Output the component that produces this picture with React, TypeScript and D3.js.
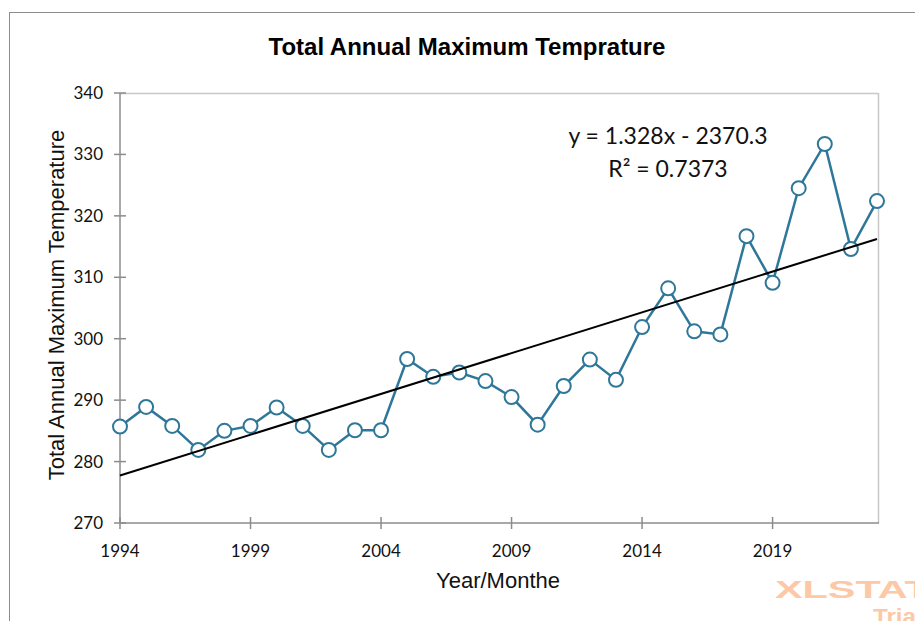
import React from "react";
import * as d3 from "d3";

const years = [1994,1995,1996,1997,1998,1999,2000,2001,2002,2003,2004,2005,2006,2007,2008,2009,2010,2011,2012,2013,2014,2015,2016,2017,2018,2019,2020,2021,2022,2023];
const values = [285.7,288.9,285.8,281.9,285.0,285.8,288.8,285.8,281.9,285.1,285.1,296.7,293.8,294.5,293.1,290.5,286.0,292.3,296.6,293.3,301.9,308.2,301.2,300.7,316.7,309.1,324.5,331.7,314.6,322.4];
const xTicks = [1994,1999,2004,2009,2014,2019];
const yTicks = [270,280,290,300,310,320,330,340];
const slope = 1.328;
const intercept = -2370.3;

const W = 915, H = 621;
const left = 120, right = 878, top = 93, bottom = 523;

export default function App() {
  const x = d3.scaleLinear().domain([1994, 2023]).range([left, right - 1]);
  const y = d3.scaleLinear().domain([270, 340]).range([bottom, top]);
  const line = d3.line<number>().x((_, i) => x(years[i])).y((d) => y(d));
  const trendY = (yr: number) => slope * yr + intercept;
  const calibri = "Lato, 'Open Sans', sans-serif";
  const arial = "'Liberation Sans', Arial, sans-serif";
  return (
    <svg width={W} height={H} style={{ position: "absolute", left: 0, top: 0, background: "#fff" }}>
      <rect x={9.5} y={12.5} width={W + 20} height={H + 20} fill="#fff" stroke="#8c8c8c" strokeWidth={1} />
      <text x={467} y={55} textAnchor="middle" fontFamily={arial} fontWeight="bold" fontSize={24} fill="#000">
        Total Annual Maximum Temprature
      </text>
      {/* plot frame */}
      <line x1={left} x2={right} y1={top + 0.5} y2={top + 0.5} stroke="#c8c8c8" strokeWidth={1.5} />
      <line x1={right + 0.5} x2={right + 0.5} y1={top} y2={bottom} stroke="#c8c8c8" strokeWidth={1.5} />
      {/* axes */}
      <line x1={left} x2={left} y1={top} y2={bottom} stroke="#8c8c8c" strokeWidth={1.5} />
      <line x1={left} x2={right + 1} y1={bottom} y2={bottom} stroke="#8c8c8c" strokeWidth={1.5} />
      {yTicks.map((t) => (
        <g key={"y" + t}>
          <line x1={left - 6} x2={left + 6} y1={y(t)} y2={y(t)} stroke="#8c8c8c" strokeWidth={1.5} />
          <text x={103} y={y(t) + 6} textAnchor="end" fontFamily={calibri} fontSize={17} fill="#111">{t}</text>
        </g>
      ))}
      {xTicks.map((t) => (
        <g key={"x" + t}>
          <line x1={x(t)} x2={x(t)} y1={bottom - 6} y2={bottom + 6} stroke="#8c8c8c" strokeWidth={1.5} />
          <text x={x(t)} y={557} textAnchor="middle" fontFamily={calibri} fontSize={17} fill="#111">{t}</text>
        </g>
      ))}
      <text transform={`translate(64,${(top + bottom) / 2 - 3}) rotate(-90)`} textAnchor="middle" fontFamily={arial} fontSize={22} fill="#111">
        Total Annual Maximum Temperature
      </text>
      <text x={498} y={588} textAnchor="middle" fontFamily={arial} fontSize={22} fill="#111">Year/Monthe</text>
      {/* series */}
      <path d={line(values) || ""} fill="none" stroke="#2f7799" strokeWidth={2.5} />
      {values.map((v, i) => (
        <circle key={i} cx={x(years[i])} cy={y(v)} r={7} fill="#fff" stroke="#2f7799" strokeWidth={2} />
      ))}
      {/* trendline */}
      <line x1={x(1994)} y1={y(trendY(1994))} x2={x(2023)} y2={y(trendY(2023))} stroke="#000" strokeWidth={2} />
      <text x={668} y={144} textAnchor="middle" fontFamily={calibri} fontSize={23} fill="#111">y = 1.328x - 2370.3</text>
      <text x={668} y={177} textAnchor="middle" fontFamily={calibri} fontSize={23} fill="#111">R² = 0.7373</text>
      {/* watermark */}
      <text transform="translate(775,598) scale(1.8,1)" fontFamily={arial} fontWeight="bold" fontSize={23} fill="#fdc8a6">XLSTAT</text>
      <text transform="translate(873,624) scale(1.1,1)" fontFamily={arial} fontWeight="bold" fontSize={22} fill="#fdc8a6">Trial</text>
    </svg>
  );
}
